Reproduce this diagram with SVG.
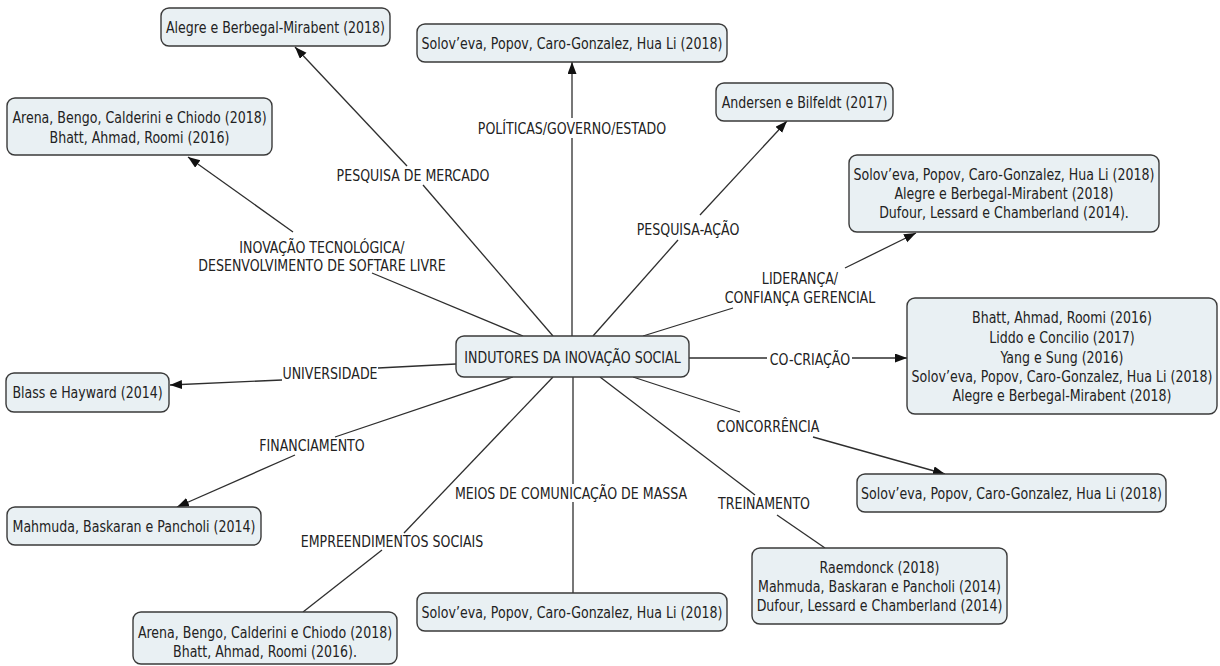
<svg xmlns="http://www.w3.org/2000/svg" width="1220" height="666" viewBox="0 0 1220 666">
<style>
.box{fill:#e9f0f3;stroke:#3a3a3a;stroke-width:1.4}
.t{font-family:"DejaVu Sans Condensed","DejaVu Sans","Liberation Sans",sans-serif;font-stretch:condensed;font-size:14px;fill:#222;text-anchor:middle;transform-box:fill-box;transform-origin:center;transform:scale(1,1.12)}
.c{stroke:#2e2e2e;stroke-width:1.3;fill:none}
.a{marker-end:url(#arr)}
</style>
<defs>
<marker id="arr" markerUnits="userSpaceOnUse" markerWidth="13" markerHeight="10" refX="12" refY="4.5" orient="auto">
<path d="M0,0 L12,4.5 L0,9 z" fill="#111"/>
</marker>
</defs>
<rect width="1220" height="666" fill="#fff"/>
<g id="connectors">
<line class="c" x1="553" y1="336" x2="423" y2="185"/>
<line class="c a" x1="407" y1="166" x2="295" y2="47"/>
<line class="c" x1="572" y1="336" x2="572" y2="138"/>
<line class="c a" x1="572" y1="118" x2="572" y2="62"/>
<line class="c" x1="593" y1="336" x2="678" y2="240"/>
<line class="c a" x1="700" y1="215" x2="787" y2="121"/>
<line class="c" x1="643" y1="336" x2="733" y2="308"/>
<line class="c a" x1="845" y1="268" x2="916" y2="233"/>
<line class="c" x1="689" y1="358" x2="767" y2="358"/>
<line class="c a" x1="852" y1="358" x2="907" y2="358"/>
<line class="c" x1="633" y1="377" x2="740" y2="412"/>
<line class="c a" x1="813" y1="437" x2="945" y2="474"/>
<line class="c" x1="600" y1="377" x2="755" y2="495"/>
<line class="c" x1="777" y1="515" x2="825" y2="548"/>
<line class="c" x1="573" y1="377" x2="573" y2="484"/>
<line class="c" x1="573" y1="502" x2="573" y2="593"/>
<line class="c" x1="553" y1="377" x2="404" y2="533"/>
<line class="c" x1="382" y1="550" x2="303" y2="612"/>
<line class="c" x1="513" y1="377" x2="335" y2="437"/>
<line class="c a" x1="295" y1="455" x2="177" y2="507"/>
<line class="c" x1="456" y1="364" x2="378" y2="368"/>
<line class="c a" x1="282" y1="380" x2="170" y2="385"/>
<line class="c" x1="523" y1="336" x2="372" y2="273"/>
<line class="c a" x1="293" y1="232" x2="188" y2="157"/>
</g>
<g id="labels">
<text class="t" x="413" y="180">PESQUISA DE MERCADO</text>
<text class="t" x="572" y="133">POLÍTICAS/GOVERNO/ESTADO</text>
<text class="t" x="688" y="234">PESQUISA-AÇÃO</text>
<text class="t" x="800" y="283">LIDERANÇA/</text>
<text class="t" x="800" y="302">CONFIANÇA GERENCIAL</text>
<text class="t" x="810" y="364">CO-CRIAÇÃO</text>
<text class="t" x="768" y="431">CONCORRÊNCIA</text>
<text class="t" x="764" y="508">TREINAMENTO</text>
<text class="t" x="571" y="498">MEIOS DE COMUNICAÇÃO DE MASSA</text>
<text class="t" x="392" y="546">EMPREENDIMENTOS SOCIAIS</text>
<text class="t" x="312" y="450">FINANCIAMENTO</text>
<text class="t" x="330" y="378">UNIVERSIDADE</text>
<text class="t" x="322" y="252">INOVAÇÃO TECNOLÓGICA/</text>
<text class="t" x="322" y="270">DESENVOLVIMENTO DE SOFTARE LIVRE</text>
</g>
<g id="center">
<rect class="box" x="456" y="336" width="233" height="41" rx="8"/>
<text class="t" x="572.5" y="362">INDUTORES DA INOVAÇÃO SOCIAL</text>
</g>
<g id="n-alegre">
<rect class="box" x="161" y="8" width="229" height="38" rx="8"/>
<text class="t" x="275.5" y="32">Alegre e Berbegal-Mirabent (2018)</text>
</g>
<g id="n-arena-top">
<rect class="box" x="7" y="98" width="265" height="57" rx="8"/>
<text class="t" x="139.5" y="122">Arena, Bengo, Calderini e Chiodo (2018)</text>
<text class="t" x="139.5" y="142">Bhatt, Ahmad, Roomi (2016)</text>
</g>
<g id="n-solov-top">
<rect class="box" x="417" y="24" width="310" height="38" rx="8"/>
<text class="t" x="572" y="48">Solov’eva, Popov, Caro-Gonzalez, Hua Li (2018)</text>
</g>
<g id="n-andersen">
<rect class="box" x="716" y="83" width="177" height="38" rx="8"/>
<text class="t" x="804.5" y="107">Andersen e Bilfeldt (2017)</text>
</g>
<g id="n-lideranca">
<rect class="box" x="849" y="155" width="310" height="77" rx="8"/>
<text class="t" x="1004" y="179">Solov’eva, Popov, Caro-Gonzalez, Hua Li (2018)</text>
<text class="t" x="1004" y="198">Alegre e Berbegal-Mirabent (2018)</text>
<text class="t" x="1004" y="217">Dufour, Lessard e Chamberland (2014).</text>
</g>
<g id="n-cocriacao">
<rect class="box" x="907" y="298" width="310" height="116" rx="8"/>
<text class="t" x="1062" y="322">Bhatt, Ahmad, Roomi (2016)</text>
<text class="t" x="1062" y="342">Liddo e Concilio (2017)</text>
<text class="t" x="1062" y="362">Yang e Sung (2016)</text>
<text class="t" x="1062" y="381">Solov’eva, Popov, Caro-Gonzalez, Hua Li (2018)</text>
<text class="t" x="1062" y="400">Alegre e Berbegal-Mirabent (2018)</text>
</g>
<g id="n-concorrencia">
<rect class="box" x="857" y="474" width="309" height="38" rx="8"/>
<text class="t" x="1011.5" y="498">Solov’eva, Popov, Caro-Gonzalez, Hua Li (2018)</text>
</g>
<g id="n-treinamento">
<rect class="box" x="752" y="548" width="255" height="76" rx="8"/>
<text class="t" x="879.5" y="572">Raemdonck (2018)</text>
<text class="t" x="879.5" y="591">Mahmuda, Baskaran e Pancholi (2014)</text>
<text class="t" x="879.5" y="610">Dufour, Lessard e Chamberland (2014)</text>
</g>
<g id="n-meios">
<rect class="box" x="417" y="593" width="310" height="38" rx="8"/>
<text class="t" x="572" y="617">Solov’eva, Popov, Caro-Gonzalez, Hua Li (2018)</text>
</g>
<g id="n-empreendimentos">
<rect class="box" x="133" y="612" width="264" height="52" rx="8"/>
<text class="t" x="265" y="637">Arena, Bengo, Calderini e Chiodo (2018)</text>
<text class="t" x="265" y="656">Bhatt, Ahmad, Roomi (2016).</text>
</g>
<g id="n-mahmuda">
<rect class="box" x="7" y="507" width="254" height="38" rx="8"/>
<text class="t" x="134" y="531">Mahmuda, Baskaran e Pancholi (2014)</text>
</g>
<g id="n-blass">
<rect class="box" x="6" y="373" width="163" height="39" rx="8"/>
<text class="t" x="87.5" y="397">Blass e Hayward (2014)</text>
</g>
</svg>
